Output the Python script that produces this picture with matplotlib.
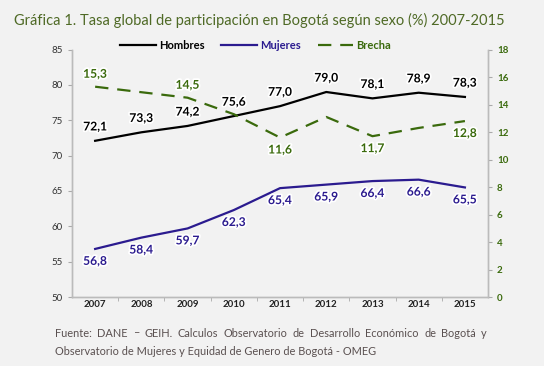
import matplotlib.pyplot as plt
import matplotlib.patheffects as pe

plt.rcParams["font.family"] = ["Lato", "DejaVu Sans"]

years = ["2007", "2008", "2009", "2010", "2011", "2012", "2013", "2014", "2015"]
hombres = [72.1, 73.3, 74.2, 75.6, 77.0, 79.0, 78.1, 78.9, 78.3]
mujeres = [56.8, 58.4, 59.7, 62.3, 65.4, 65.9, 66.4, 66.6, 65.5]
brecha = [15.3, 14.9, 14.5, 13.3, 11.6, 13.1, 11.7, 12.3, 12.8]
# brecha only labelled every other year
brecha_labelled = [0, 2, 4, 6, 8]

c_h = "#000000"
c_m = "#2b1b8f"
c_b = "#3a6a0c"
bg = "#f2f2f2"
halo = [pe.withStroke(linewidth=2.5, foreground="white")]

fig = plt.figure(figsize=(5.44, 3.66), dpi=100, facecolor=bg)
ax = fig.add_axes([0.1324, 0.1885, 0.7647, 0.676])
ax.set_facecolor(bg)
ax2 = ax.twinx()

x = list(range(len(years)))
lh, = ax.plot(x, hombres, color=c_h, lw=1.6)
lm, = ax.plot(x, mujeres, color=c_m, lw=1.6)
lb, = ax2.plot(x, brecha, color=c_b, lw=1.6, dashes=(6, 4))

ax.set_xlim(-0.5, 8.5)
ax.set_ylim(50, 85)
ax2.set_ylim(0, 18)
ax.set_yticks(range(50, 86, 5))
ax2.set_yticks(range(0, 19, 2))
ax.set_xticks(x)
ax.set_xticklabels(years, fontsize=7, fontweight="bold", color="#222222")
ax.set_xticks([i + 0.5 for i in x[:-1]], minor=True)
ax.tick_params(axis="x", which="major", length=0, pad=2)
ax.tick_params(axis="x", which="minor", length=3, color="#aaaaaa")
ax.tick_params(axis="y", labelsize=7, colors="#333333", length=3, width=0.8)
ax.tick_params(axis="y", color="#aaaaaa")
ax2.tick_params(axis="y", labelsize=7, labelcolor=c_b, length=3, color="#aaaaaa")
for t in ax2.get_yticklabels():
    t.set_fontweight("bold")

for a in (ax, ax2):
    a.spines["top"].set_visible(False)
    for s in ("left", "right", "bottom"):
        a.spines[s].set_color("#bbbbbb")
        a.spines[s].set_linewidth(1)

for i, v in enumerate(hombres):
    ax.annotate(f"{v:.1f}".replace(".", ","), (i, v), xytext=(0, 6),
                textcoords="offset points", ha="center", va="bottom",
                fontsize=8.7, fontweight="bold", color=c_h, path_effects=halo)
for i, v in enumerate(mujeres):
    ax.annotate(f"{v:.1f}".replace(".", ","), (i, v), xytext=(0, -5),
                textcoords="offset points", ha="center", va="top",
                fontsize=8.7, fontweight="bold", color=c_m, path_effects=halo)
for i in brecha_labelled:
    v = brecha[i]
    off, va = (5, "bottom") if i < 3 else (-5, "top")
    ax2.annotate(f"{v:.1f}".replace(".", ","), (i, v), xytext=(0, off),
                 textcoords="offset points", ha="center", va=va,
                 fontsize=8.7, fontweight="bold", color=c_b, path_effects=halo)

leg = fig.legend([lh, lm, lb], ["Hombres", "Mujeres", "Brecha"], ncol=3,
                 loc="center", bbox_to_anchor=(0.47, 0.877), frameon=False,
                 fontsize=8, handlelength=3.2, handletextpad=0.3,
                 columnspacing=1.5)
for t, c in zip(leg.get_texts(), [c_h, c_m, c_b]):
    t.set_color(c)
    t.set_fontweight("bold")

fig.text(0.025, 0.945, "Gráfica 1. Tasa global de participación en Bogotá según sexo (%) 2007-2015",
         fontsize=10.5, color="#4f6a26", va="center")

# source note, first line justified between x0 and x1 (pixels)
src_style = dict(fontsize=7.9, color="#5a5050", va="center")
line1 = "Fuente: DANE \u2013 GEIH. Calculos Observatorio de Desarrollo Económico de Bogotá y".split(" ")
line2 = "Observatorio de Mujeres y Equidad de Genero de Bogotá - OMEG"
x0, x1 = 55, 487
W = 544
renderer = fig.canvas.get_renderer()
words = [fig.text(0, 0.09, w, **src_style) for w in line1]
widths = [t.get_window_extent(renderer).width for t in words]
gap = (x1 - x0 - sum(widths)) / (len(words) - 1)
pos = x0
for t, w in zip(words, widths):
    t.set_x(pos / W)
    pos += w + gap
fig.text(x0 / W, 0.04, line2, **src_style)

fig.savefig("out.png", dpi=100, facecolor=bg)
